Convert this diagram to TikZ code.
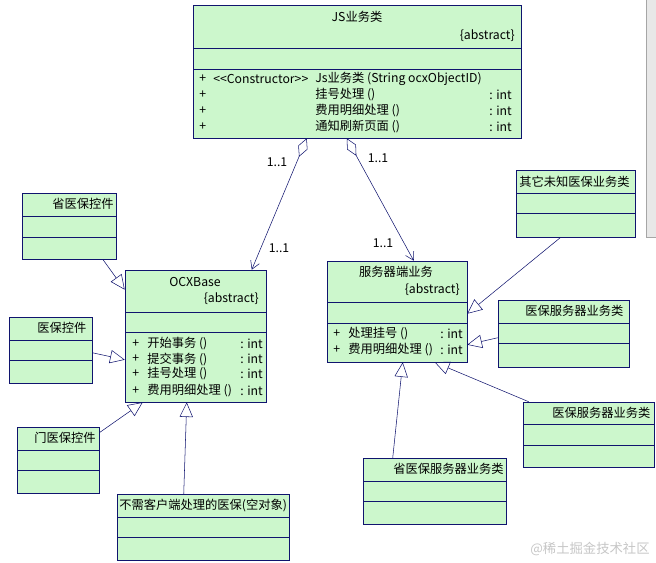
\documentclass[tikz,border=0pt]{standalone}
\usepackage{fontspec}
\setmainfont{Noto Sans CJK SC}
\usetikzlibrary{arrows.meta,fit,calc}
\definecolor{umlgreen}{RGB}{204,247,204}
\definecolor{umlblue}{RGB}{16,20,110}
\tikzstyle{classbox}=[draw=umlblue,fill=umlgreen,inner sep=0pt]
\tikzstyle{member}=[font=\fontsize{9.2}{10}\selectfont,inner sep=0pt]
\tikzstyle{generalize} = [draw=umlblue,-{Triangle[open,length=11pt,width=10pt]}]
\tikzstyle{aggregate} = [draw=umlblue,{Diamond[open,length=15pt,width=7.5pt]}-{Straight Barb[length=6pt,width=7pt]}]

\begin{document}
\begin{tikzpicture}[x=0.75pt,y=-0.75pt]
    \useasboundingbox (0,0) rectangle (656,562);

    % the window border on the right
    \fill[gray!18] (646,0) rectangle (656,237);
    \draw[gray!70] (646,0) -- (646,237) -- (656,237);

    % First we draw the classes: box and two separators
    \foreach \name/\xa/\ya/\xb/\yb/\la/\lb in {js/193/5/521/138/48/69, ocx/125/270/266/402/312/332,
        srv/327/261/467/362/302/323, sheng/22/193/116/259/216/237, yb/9/317/92/383/340/360,
        men/17/427/99/493/450/470, nul/117/494/289/560/517/537, other/516/170/635/237/193/213,
        ybsrv/498/300/629/367/323/343, ybsrvb/523/402/654/467/424/445, shengsrv/363/458/506/524/481/501}
    {
        \node[classbox, fit={(\xa,\ya) (\xb,\yb)}] (\name) {};
        \draw[umlblue] (\xa,\la) -- (\xb,\la);
        \draw[umlblue] (\xa,\lb) -- (\xb,\lb);
    }

    % class names
    \node[member] (jsname) at (357,17) {JS业务类};
    \node[member] (ocxname) at (195,282) {OCXBase};
    \node[member] (srvname) at (396,272) {服务器端业务};
    \foreach \pos/\name in {{(515,36)/jsabs}, {(259,299)/ocxabs}, {(460,290)/srvabs}}
        \node[member, anchor=east] (\name) at \pos {\{abstract\}};

    \foreach \pos/\name/\label in {{(52,204)/t1/省医保控件}, {(37,328)/t2/医保控件}, {(34,438)/t3/门医保控件},
        {(119,505)/t4/不需客户端处理的医保(空对象)}, {(519,182)/t5/其它未知医保业务类},
        {(525,311)/t6/医保服务器业务类}, {(552,413)/t7/医保服务器业务类}, {(393,469)/t8/省医保服务器业务类}}
        \node[member, anchor=west] (\name) at \pos {\label};

    % operations of JS业务类
    \node[member, anchor=west] (jsc) at (213,79) {{<}{<}Constructor{>}{>}};
    \node[member, anchor=west] (jsop0) at (315,79) {Js业务类 (String ocxObjectID)};
    \foreach \y/\name/\label in {79/jsp0/{}, 95/jsop1/挂号处理 (), 111/jsop2/费用明细处理 (), 127/jsop3/通知刷新页面 ()}
    {
        \node[member, anchor=west] (p\name) at (199,\y) {+};
        \node[member, anchor=west] (\name) at (315,\y) {\label};
    }
    \foreach \y/\name in {95/jst1, 111/jst2, 127/jst3}
        \node[member, anchor=west] (\name) at (489,\y) {: int};

    % operations of OCXBase
    \foreach \y/\name/\label in {344/ocxop1/开始事务 (), 359/ocxop2/提交事务 (), 374/ocxop3/挂号处理 (), 391/ocxop4/费用明细处理 ()}
    {
        \node[member, anchor=west] (p\name) at (132,\y) {+};
        \node[member, anchor=west] (\name) at (147,\y) {\label};
        \node[member, anchor=west] (t\name) at (240,\y) {: int};
    }

    % operations of 服务器端业务
    \foreach \y/\name/\label in {334/srvop1/处理挂号 (), 350/srvop2/费用明细处理 ()}
    {
        \node[member, anchor=west] (p\name) at (333,\y) {+};
        \node[member, anchor=west] (\name) at (348,\y) {\label};
        \node[member, anchor=west] (t\name) at (440,\y) {: int};
    }

    % Connect classes: aggregations
    \path[aggregate] ($(js.south west)+(114,0)$) -- ($(ocx.north west)+(127,0)$);
    \path[aggregate] ($(js.south west)+(154,0)$) -- ($(srv.north west)+(87,0)$);
    \foreach \pos/\name in {{(277,162)/m1}, {(378,158)/m2}, {(279,248)/m3}, {(383,243)/m4}}
        \node[member] (\name) at \pos {1..1};

    % generalizations
    \path[generalize] ($(sheng.south west)+(81,0)$) -- ($(ocx.north west)+(0,20)$);
    \path[generalize] ($(yb.north east)+(0,36)$) -- ($(ocx.north west)+(0,90)$);
    \path[generalize] ($(men.north east)+(0,6)$) -- ($(ocx.south west)+(18,0)$);
    \path[generalize] ($(nul.north west)+(67,0)$) -- ($(ocx.south west)+(62,0)$);
    \path[generalize] ($(other.south west)+(45,0)$) -- ($(srv.north east)+(0,53)$);
    \path[generalize] ($(ybsrv.north west)+(0,38)$) -- ($(srv.north east)+(0,84)$);
    \path[generalize] ($(shengsrv.north west)+(30,0)$) -- ($(srv.south west)+(76,0)$);
    \path[generalize] ($(ybsrvb.north west)+(6,0)$) -- ($(srv.south west)+(108,0)$);

    % watermark
    \node[member, text=gray!45, font=\fontsize{10}{11}\selectfont] (wm) at (590,549) {@稀土掘金技术社区};
\end{tikzpicture}
\end{document}
